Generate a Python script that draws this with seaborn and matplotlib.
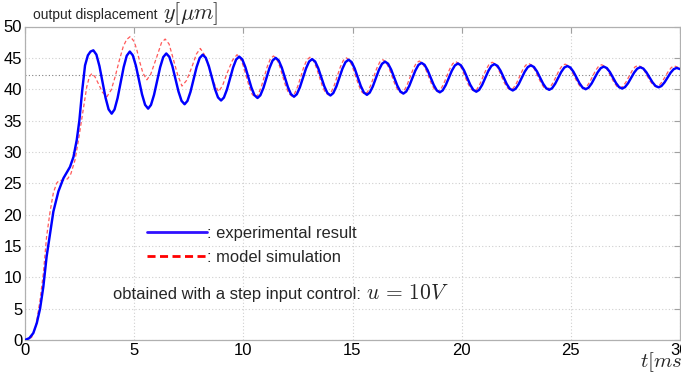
import pandas as pd
import matplotlib
matplotlib.use("Agg")
import matplotlib.pyplot as plt
import seaborn as sns
from matplotlib.lines import Line2D

# experimental result (blue), t in ms, y in um
exp_t = [0, 0.2, 0.38, 0.54, 0.69, 0.84, 0.99, 1.15, 1.30, 1.53, 1.76, 2.06, 2.22, 2.37, 2.49, 2.62, 2.75, 2.88, 3.0,
         3.13, 3.27, 3.41, 3.55, 3.69, 3.83, 3.97, 4.10, 4.24, 4.38, 4.52, 4.66,
         4.80, 4.94, 5.08, 5.22, 5.36, 5.50, 5.64, 5.77, 5.91, 6.05, 6.19, 6.33,
         6.47, 6.61, 6.75, 6.89, 7.03, 7.17, 7.31, 7.44, 7.58, 7.72, 7.86, 8.00,
         8.14, 8.28, 8.42, 8.56, 8.70, 8.84, 8.98, 9.11, 9.25, 9.39, 9.53, 9.67,
         9.81, 9.95, 10.09, 10.23, 10.37, 10.51, 10.65, 10.78, 10.92, 11.06, 11.20, 11.34,
         11.48, 11.62, 11.76, 11.90, 12.04, 12.18, 12.32, 12.45, 12.59, 12.73, 12.87, 13.01,
         13.15, 13.29, 13.43, 13.57, 13.71, 13.85, 13.99, 14.12, 14.26, 14.40, 14.54, 14.68,
         14.82, 14.96, 15.10, 15.24, 15.38, 15.52, 15.66, 15.79, 15.93, 16.07, 16.21, 16.35,
         16.49, 16.63, 16.77, 16.91, 17.05, 17.19, 17.33, 17.46, 17.60, 17.74, 17.88, 18.02,
         18.16, 18.30, 18.44, 18.58, 18.72, 18.86, 19.00, 19.13, 19.27, 19.41, 19.55, 19.69,
         19.83, 19.97, 20.11, 20.25, 20.39, 20.53, 20.67, 20.80, 20.94, 21.08, 21.22, 21.36,
         21.50, 21.64, 21.78, 21.92, 22.06, 22.20, 22.34, 22.47, 22.61, 22.75, 22.89, 23.03,
         23.17, 23.31, 23.45, 23.59, 23.73, 23.87, 24.01, 24.14, 24.28, 24.42, 24.56, 24.70,
         24.84, 24.98, 25.12, 25.26, 25.40, 25.54, 25.68, 25.81, 25.95, 26.09, 26.23, 26.37,
         26.51, 26.65, 26.79, 26.93, 27.07, 27.21, 27.35, 27.48, 27.62, 27.76, 27.90, 28.04,
         28.18, 28.32, 28.46, 28.60, 28.74, 28.88, 29.02, 29.15, 29.29, 29.43, 29.57, 29.71,
         29.85, 30.0]
exp_y = [0, 0.3, 1.1, 2.7, 5.0, 8.5, 13.3, 17.0, 20.5, 23.7, 25.8, 27.6, 29.2, 31.9, 35.0, 39.8, 43.8, 45.4, 46.0,
         46.2, 45.52, 43.68, 41.15, 38.63, 36.78, 36.1, 36.76, 38.58, 41.05, 43.53, 45.34,
         46.0, 45.39, 43.73, 41.45, 39.18, 37.51, 36.9, 37.49, 39.1, 41.3, 43.5, 45.11,
         45.7, 45.16, 43.68, 41.65, 39.63, 38.14, 37.6, 38.13, 39.58, 41.55, 43.53, 44.97,
         45.5, 45.01, 43.68, 41.85, 40.03, 38.69, 38.2, 38.67, 39.95, 41.7, 43.45, 44.73,
         45.2, 44.76, 43.55, 41.9, 40.25, 39.04, 38.6, 39.03, 40.2, 41.8, 43.4, 44.57,
         45.0, 44.58, 43.45, 41.9, 40.35, 39.22, 38.8, 39.2, 40.3, 41.8, 43.3, 44.4,
         44.8, 44.41, 43.35, 41.9, 40.45, 39.39, 39.0, 39.38, 40.43, 41.85, 43.28, 44.32,
         44.7, 44.32, 43.3, 41.9, 40.5, 39.48, 39.1, 39.46, 40.43, 41.75, 43.08, 44.04,
         44.4, 44.06, 43.13, 41.85, 40.58, 39.64, 39.3, 39.63, 40.53, 41.75, 42.98, 43.87,
         44.2, 43.89, 43.03, 41.85, 40.68, 39.81, 39.5, 39.81, 40.65, 41.8, 42.95, 43.79,
         44.1, 43.8, 42.98, 41.85, 40.73, 39.9, 39.6, 39.89, 40.7, 41.8, 42.9, 43.71,
         44.0, 43.72, 42.95, 41.9, 40.85, 40.08, 39.8, 40.07, 40.8, 41.8, 42.8, 43.53,
         43.8, 43.54, 42.83, 41.85, 40.88, 40.16, 39.9, 40.15, 40.85, 41.8, 42.75, 43.45,
         43.7, 43.45, 42.78, 41.85, 40.93, 40.25, 40.0, 40.24, 40.9, 41.8, 42.7, 43.36,
         43.6, 43.37, 42.73, 41.85, 40.98, 40.33, 40.1, 40.33, 40.95, 41.8, 42.65, 43.27,
         43.5, 43.29, 42.7, 41.9, 41.1, 40.51, 40.3, 40.51, 41.08, 41.85, 42.63, 43.19,
         43.4, 43.2]

# model simulation (red dashed)
sim_t = [0, 0.3, 0.5, 0.69, 0.84, 0.99, 1.15, 1.30, 1.45, 1.55, 1.75, 1.95, 2.10, 2.29, 2.45, 2.60, 2.83, 2.95,
         3.06, 3.20, 3.36, 3.55, 3.75, 3.95, 4.13, 4.32, 4.50, 4.65, 4.82, 5.00, 5.12, 5.26, 5.40, 5.58, 5.75,
         5.90, 6.04, 6.25, 6.42, 6.60, 6.80, 7.00, 7.19, 7.40, 7.65, 7.85, 8.03, 8.20, 8.41, 8.65, 8.87,
         9.05, 9.25, 9.50,
         9.71, 9.85, 9.99, 10.13, 10.27, 10.41, 10.55, 10.68, 10.82, 10.96, 11.10, 11.24,
         11.38, 11.52, 11.66, 11.80, 11.94, 12.08, 12.22, 12.35, 12.49, 12.63, 12.77, 12.91,
         13.05, 13.19, 13.33, 13.47, 13.61, 13.75, 13.89, 14.02, 14.16, 14.30, 14.44, 14.58,
         14.72, 14.86, 15.00, 15.14, 15.28, 15.42, 15.56, 15.69, 15.83, 15.97, 16.11, 16.25,
         16.39, 16.53, 16.67, 16.81, 16.95, 17.09, 17.23, 17.36, 17.50, 17.64, 17.78, 17.92,
         18.06, 18.20, 18.34, 18.48, 18.62, 18.76, 18.90, 19.03, 19.17, 19.31, 19.45, 19.59,
         19.73, 19.87, 20.01, 20.15, 20.29, 20.43, 20.57, 20.70, 20.84, 20.98, 21.12, 21.26,
         21.40, 21.54, 21.68, 21.82, 21.96, 22.10, 22.24, 22.37, 22.51, 22.65, 22.79, 22.93,
         23.07, 23.21, 23.35, 23.49, 23.63, 23.77, 23.91, 24.04, 24.18, 24.32, 24.46, 24.60,
         24.74, 24.88, 25.02, 25.16, 25.30, 25.44, 25.58, 25.71, 25.85, 25.99, 26.13, 26.27,
         26.41, 26.55, 26.69, 26.83, 26.97, 27.11, 27.25, 27.38, 27.52, 27.66, 27.80, 27.94,
         28.08, 28.22, 28.36, 28.50, 28.64, 28.78, 28.92, 29.05, 29.19, 29.33, 29.47, 29.61,
         29.75, 29.89, 30.0]
sim_y = [0, 0.4, 2.2, 6.4, 10.6, 16.5, 20.5, 23.5, 25.0, 25.4, 25.5, 25.7, 26.5, 28.7, 31.9, 35.3, 40.4, 42.0,
         42.5, 42.0, 40.9, 39.5, 38.8, 39.9, 42.0, 44.6, 46.8, 47.9, 48.4, 47.6, 46.3, 44.3, 42.6, 41.5, 42.3,
         43.8, 45.2, 47.4, 48.0, 47.2, 44.7, 42.2, 40.5, 41.4, 43.6, 45.6, 46.5, 45.6, 43.6, 41.0, 39.6,
         40.6, 42.5, 44.6,
         45.5, 45.04, 43.8, 42.1, 40.4, 39.16, 38.7, 39.14, 40.35, 42.0, 43.65, 44.86,
         45.3, 44.87, 43.7, 42.1, 40.5, 39.33, 38.9, 39.32, 40.45, 42.0, 43.55, 44.68,
         45.1, 44.7, 43.6, 42.1, 40.6, 39.5, 39.1, 39.5, 40.58, 42.05, 43.53, 44.6,
         45.0, 44.61, 43.55, 42.1, 40.65, 39.59, 39.2, 39.57, 40.58, 41.95, 43.33, 44.33,
         44.7, 44.34, 43.38, 42.05, 40.73, 39.76, 39.4, 39.74, 40.68, 41.95, 43.23, 44.16,
         44.5, 44.17, 43.28, 42.05, 40.83, 39.93, 39.6, 39.92, 40.8, 42.0, 43.2, 44.08,
         44.4, 44.09, 43.23, 42.05, 40.88, 40.01, 39.7, 40.01, 40.85, 42.0, 43.15, 43.99,
         44.3, 44.01, 43.2, 42.1, 41.0, 40.19, 39.9, 40.18, 40.95, 42.0, 43.05, 43.82,
         44.1, 43.83, 43.08, 42.05, 41.03, 40.27, 40.0, 40.27, 41.0, 42.0, 43.0, 43.73,
         44.0, 43.74, 43.03, 42.05, 41.08, 40.36, 40.1, 40.35, 41.05, 42.0, 42.95, 43.65,
         43.9, 43.65, 42.98, 42.05, 41.13, 40.45, 40.2, 40.44, 41.1, 42.0, 42.9, 43.56,
         43.8, 43.57, 43.0, 42.1, 41.25, 40.63, 40.4, 40.62, 41.23, 42.05, 42.88, 43.48,
         43.7, 43.5, 43.3]

steady_level = 42.2
x_ticks = [0, 5, 10, 15, 20, 25, 30]
y_ticks = [0, 5, 10, 15, 20, 25, 30, 35, 40, 45, 50]


def generate_step_plot():
    sns.set_theme(style="white")
    plt.rcParams['font.family'] = ['Liberation Sans', 'DejaVu Sans']
    plt.rcParams['mathtext.fontset'] = 'cm'

    fig = plt.figure(figsize=(6.81, 3.73), dpi=100)
    ax = fig.add_axes([25 / 681, 33 / 373, 655 / 681, 313.5 / 373])

    exp_df = pd.DataFrame({'t': exp_t, 'y': exp_y})
    sim_df = pd.DataFrame({'t': sim_t, 'y': sim_y})

    ax.axhline(steady_level, color='#808080', ls=(0, (1, 2)), lw=0.8, zorder=1)
    sns.lineplot(data=sim_df, x='t', y='y', ax=ax, color='#ff5a5a', lw=0.9,
                 sort=False, estimator=None, zorder=3).lines[-1].set_dashes((3, 2))
    sns.lineplot(data=exp_df, x='t', y='y', ax=ax, color='#0000ff', lw=1.75,
                 sort=False, estimator=None, zorder=4)

    ax.set_xlim(0, 30)
    ax.set_ylim(0, 50)
    ax.set_xticks(x_ticks)
    ax.set_yticks(y_ticks)
    ax.set_xlabel('')
    ax.set_ylabel('')
    ax.grid(True, color='#cfcfcf', ls=(0, (1, 2)), lw=0.8)
    for s in ax.spines.values():
        s.set_color('#b0b0b0')
        s.set_linewidth(0.9)
        s.set_visible(True)
    ax.tick_params(direction='in', length=4, width=0.8, color='#a0a0a0',
                   top=True, right=True, labelsize=12, pad=2, labelcolor='black')

    handles = [Line2D([], [], color='#3010ff', lw=2),
               Line2D([], [], color='#ff0000', lw=2, dashes=(2.9, 1.6))]
    ax.legend(handles, [': experimental result', ': model simulation'],
              loc='upper left', bbox_to_anchor=((147 - 25) / 655, (340 - 226) / 313.5),
              frameon=False, fontsize=11.9, handlelength=3.65, handletextpad=0.0,
              borderpad=0, borderaxespad=0, labelspacing=0.55)

    ax.text(4.04, 6.6, 'obtained with a step input control:', fontsize=11.85, va='baseline')
    ax.text(15.62, 6.6, r'$u\,=\,10V$', fontsize=15.5, va='baseline')

    fig.text(33 / 681, 1 - 19 / 373, 'output displacement', fontsize=10.0, va='baseline')
    fig.text(163 / 681, 1 - 19 / 373, r'$y[\mu m]$', fontsize=16, va='baseline')
    fig.text(640 / 681, 1 - 367 / 373, r'$t[ms]$', fontsize=15, va='baseline')

    fig.savefig('out.png', dpi=100)


if __name__ == "__main__":
    generate_step_plot()
